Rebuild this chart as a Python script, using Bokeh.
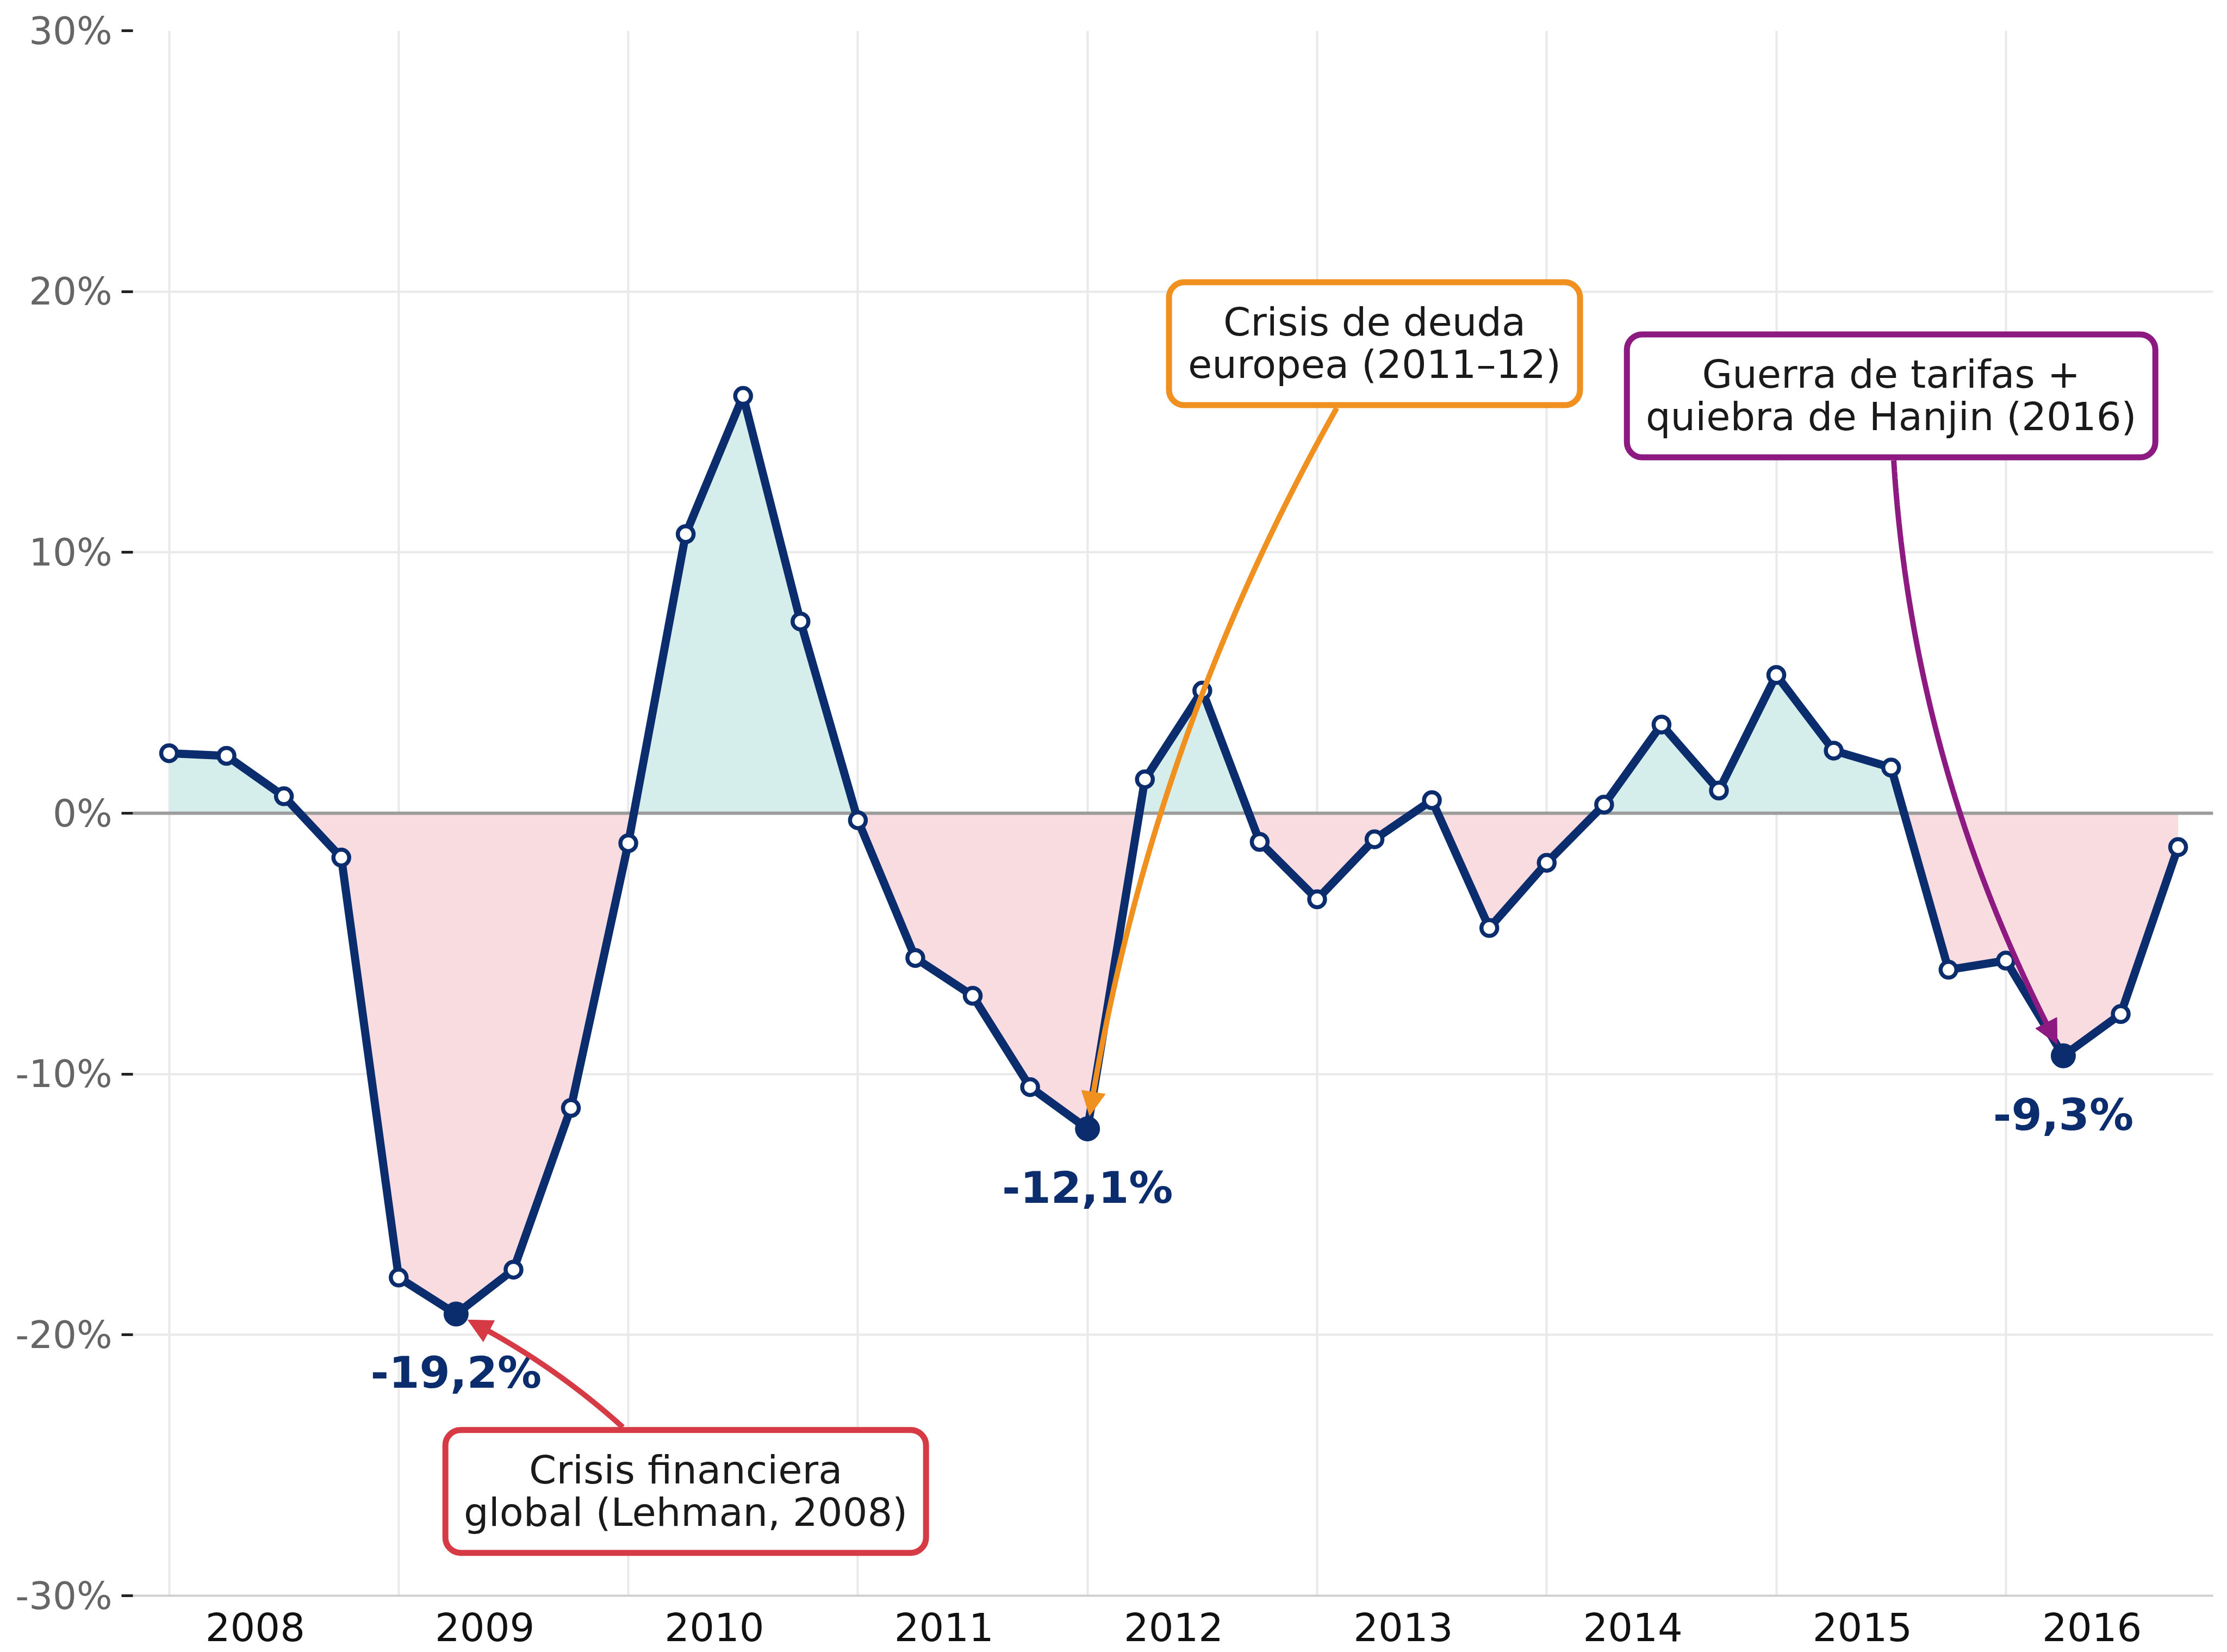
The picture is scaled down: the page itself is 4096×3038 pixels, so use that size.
import numpy as np
from bokeh.plotting import figure
from bokeh.models import (Range1d, FixedTicker, PrintfTickFormatter, BoxAnnotation,
                          Label, Arrow, NormalHead)
from bokeh.core.properties import value
from bokeh.embed import file_html
from bokeh.resources import INLINE

# ---------------- data ----------------
years = ["2008", "2009", "2010", "2011", "2012", "2013", "2014", "2015", "2016"]
quarters = [f"{y}-T{q}" for y in years for q in range(1, 5)]
growth = [2.3, 2.2, 0.65, -1.7, -17.8, -19.2, -17.5, -11.3,
          -1.15, 10.7, 16.0, 7.35, -0.27, -5.55, -7.0, -10.5,
          -12.1, 1.3, 4.7, -1.1, -3.3, -1.0, 0.5, -4.4,
          -1.9, 0.33, 3.4, 0.87, 5.3, 2.4, 1.75, -6.0,
          -5.65, -9.3, -7.7, -1.3]
y_ticks = [-30, -20, -10, 0, 10, 20, 30]

events_text = [["Crisis financiera", "global (Lehman, 2008)"],
               ["Crisis de deuda", "europea (2011\u201312)"],
               ["Guerra de tarifas +", "quiebra de Hanjin (2016)"]]
events_quarter = ["2009-T2", "2012-T1", "2016-T2"]
events_box_center = [(9, -26), (21, 18), (30, 16)]
events_color = ["#d63a45", "#f0901f", "#8c1a80"]
events_rad = [0.1, 0.1, 0.12]
events_box_half = [(442, 113), (378, 113), (486, 113)]   # px

# ---------------- style ----------------
NAVY = "#0b2d6e"
POS_FILL = "#d5eeeb"
NEG_FILL = "#f8dcdf"
GRID = "#e9e9e9"
FONT = "DejaVu Sans"

X0, X1 = -0.63, 35.61
Y0, Y1 = -30, 30
FW, FH = 3826, 2878
sx = FW / (X1 - X0)
sy = FH / (Y1 - Y0)

p = figure(frame_width=FW, frame_height=FH,
           x_range=Range1d(X0, X1), y_range=Range1d(Y0, Y1),
           output_backend="svg", toolbar_location=None,
           min_border_left=244, min_border_right=26,
           min_border_top=56, min_border_bottom=100,
           background_fill_color="white", border_fill_color="white",
           outline_line_color=None)

x = np.arange(len(growth), dtype=float)
y = np.array(growth, dtype=float)

# axes
year_starts = [4 * i for i in range(len(years))]
year_centers = [4 * i + 1.5 for i in range(len(years))]
p.xaxis.ticker = FixedTicker(ticks=year_centers)
p.xaxis.major_label_overrides = {c: yr for c, yr in zip(year_centers, years)}
p.xaxis.major_tick_line_color = None
p.xaxis.major_tick_out = 0
p.xaxis.major_tick_in = 0
p.xaxis.minor_tick_line_color = None
p.xaxis.axis_line_color = "#cfcfcf"
p.xaxis.axis_line_width = 4
p.xaxis.major_label_text_font = FONT
p.xaxis.major_label_text_font_size = "72px"
p.xaxis.major_label_text_color = "#111111"
p.xaxis.major_label_standoff = 30

p.yaxis.ticker = FixedTicker(ticks=y_ticks)
p.yaxis.formatter = PrintfTickFormatter(format="%d%%")
p.yaxis.axis_line_color = None
p.yaxis.major_tick_out = 21
p.yaxis.major_tick_in = 0
p.yaxis.major_tick_line_width = 5
p.yaxis.major_tick_line_color = "#222222"
p.yaxis.minor_tick_line_color = None
p.yaxis.major_label_text_font = FONT
p.yaxis.major_label_text_font_size = "69px"
p.yaxis.major_label_text_color = "#666666"
p.yaxis.major_label_standoff = 17

p.xgrid.ticker = FixedTicker(ticks=year_starts)
p.xgrid.grid_line_color = GRID
p.xgrid.grid_line_width = 4
p.ygrid.grid_line_color = GRID
p.ygrid.grid_line_width = 4

# fills with interpolated zero crossings
xs, ys = [x[0]], [y[0]]
for i in range(len(y) - 1):
    if y[i] * y[i + 1] < 0:
        xs.append(x[i] + y[i] / (y[i] - y[i + 1]))
        ys.append(0.0)
    xs.append(x[i + 1])
    ys.append(y[i + 1])
xs = np.array(xs)
ys = np.array(ys)
p.varea(x=xs, y1=0, y2=np.maximum(ys, 0), fill_color=POS_FILL)
p.varea(x=xs, y1=np.minimum(ys, 0), y2=0, fill_color=NEG_FILL)

p.hspan(y=[0], line_color="#9c9c9c", line_width=6)

# main line + markers
p.line(x, y, line_color=NAVY, line_width=15, line_join="round")
p.scatter(x, y, size=29, fill_color="white", line_color=NAVY, line_width=7.5)

min_idx = [quarters.index(q) for q in events_quarter]
mx = x[min_idx]
my = y[min_idx]
p.scatter(mx, my, size=45, fill_color=NAVY, line_color=NAVY, line_width=1)
labels = [f"{v:.1f}%".replace(".", ",") for v in my]
p.text(mx, my - 108 / sy, text=labels, text_align="center", text_baseline="alphabetic",
       text_font=value(FONT), text_font_style="bold", text_font_size="81px",
       text_color=NAVY)


def arc3(cx, cy, tx, ty, rad, hw, hh, shrink, head):
    S = np.array([cx * sx, cy * sy])
    E = np.array([tx * sx, ty * sy])
    d = E - S
    C = (S + E) / 2 + rad * np.array([d[1], -d[0]])
    t = np.linspace(0, 1, 4001)
    P = ((1 - t) ** 2)[:, None] * S + (2 * t * (1 - t))[:, None] * C + (t ** 2)[:, None] * E
    inside = (np.abs(P[:, 0] - S[0]) <= hw) & (np.abs(P[:, 1] - S[1]) <= hh)
    i0 = int(np.argmax(~inside))
    dist = np.hypot(P[:, 0] - E[0], P[:, 1] - E[1])
    i_tip = int(np.where(dist >= shrink)[0].max())
    tip = P[i_tip]
    dtip = np.hypot(P[:, 0] - tip[0], P[:, 1] - tip[1])
    i_base = int(np.where((dtip >= head * 0.7) & (np.arange(len(t)) < i_tip))[0].max())
    seg = P[i0:i_base + 1]
    return seg[:, 0] / sx, seg[:, 1] / sy, P[i_base] / [sx, sy], tip / [sx, sy]


HEAD = 44
for txt, (cx, cy), col, rad, (hw, hh), mi in zip(events_text, events_box_center, events_color,
                                                  events_rad, events_box_half, min_idx):
    lx, ly, base, tip = arc3(cx, cy, x[mi], y[mi], rad, hw + 5, hh + 5, 24, HEAD)
    p.line(lx, ly, line_color=col, line_width=10)
    p.add_layout(Arrow(end=NormalHead(size=HEAD, fill_color=col, line_color=col, line_width=1),
                       x_start=base[0], y_start=base[1], x_end=tip[0], y_end=tip[1],
                       line_color=col, line_width=10, line_alpha=0))
    p.add_layout(BoxAnnotation(left=cx - hw / sx, right=cx + hw / sx,
                               bottom=cy - hh / sy, top=cy + hh / sy,
                               fill_color="white", fill_alpha=1.0,
                               line_color=col, line_alpha=1.0, line_width=11,
                               border_radius=28))
    for k, line_txt in enumerate(txt):
        off = -40 if k == 0 else 38
        p.add_layout(Label(x=cx, y=cy - off / sy, text=line_txt, text_align="center",
                           text_baseline="alphabetic", text_font=FONT,
                           text_font_size="72px", text_color="#1a1a1a"))

open("out.html", "w").write(file_html(p, INLINE))
